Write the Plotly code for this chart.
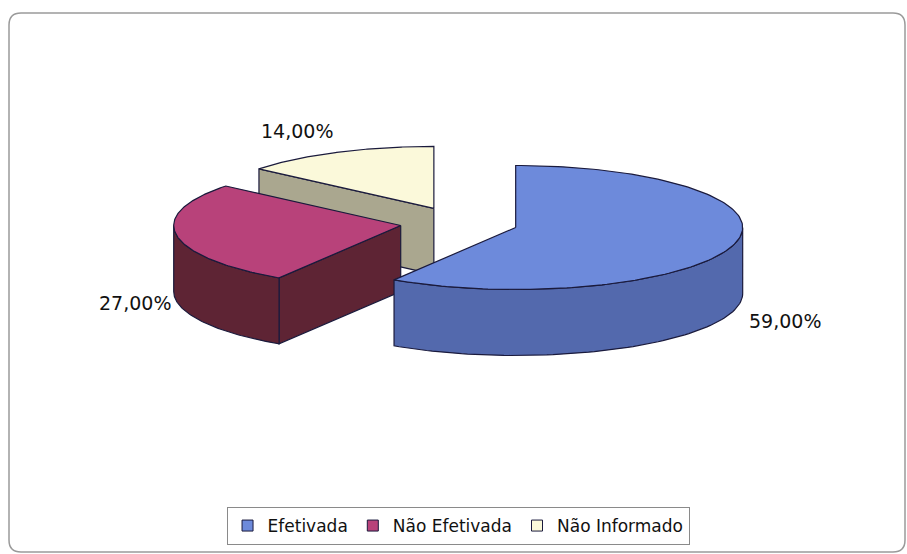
import numpy as np
import plotly.graph_objects as go

# ---- data ----
categories = ["Efetivada", "Não Efetivada", "Não Informado"]
values = [59.0, 27.0, 14.0]

# ---- style ----
top_colors = ["#6d8adb", "#b8427a", "#fbf9da"]
wall_colors = ["#5369ad", "#5e2434", "#aaa78f"]
edge_color = "#1a1a3c"
font_family = "DejaVu Sans"

W, H = 907, 554
CX, CY = 459, 223          # pie centre (pixels)
RX, RY = 227, 62           # ellipse radii
DEPTH = 66                 # pie thickness
EXPLODE = 0.26             # explosion as fraction of radius
label_offsets = [(51, 76), (-42, 68), (-40, -21)]  # label shift from slice rim point

fig = go.Figure()


def rim(theta, ox, oy, dz=0.0):
    """theta: degrees clockwise from 12 o'clock."""
    t = np.radians(90 - np.asarray(theta, dtype=float))
    return ox + RX * np.cos(t), oy - RY * np.sin(t) + dz


def poly(xs, ys, fill):
    xs = list(xs) + [xs[0]]
    ys = list(ys) + [ys[0]]
    fig.add_trace(go.Scatter(
        x=xs, y=ys, mode="lines", fill="toself", fillcolor=fill,
        line=dict(color=edge_color, width=1.2), hoverinfo="skip",
        showlegend=False))


total = sum(values)
cum = np.concatenate([[0], np.cumsum(values)]) / total * 360.0
slices = []
for i, v in enumerate(values):
    s, e = cum[i], cum[i + 1]
    m = (s + e) / 2
    tm = np.radians(90 - m)
    ox = CX + EXPLODE * RX * np.cos(tm)
    oy = CY - EXPLODE * RY * np.sin(tm)
    slices.append(dict(i=i, s=s, e=e, m=m, ox=ox, oy=oy))

# painter's order: back slices first
for sl in sorted(slices, key=lambda d: d["oy"]):
    i, s, e, ox, oy = sl["i"], sl["s"], sl["e"], sl["ox"], sl["oy"]
    # radial walls
    for ang, sign in ((s, -1), (e, 1)):
        phi = np.radians(90 - ang)
        visible = (np.cos(phi) < -1e-6) if sign == -1 else (np.cos(phi) > 1e-6)
        if visible:
            ex, ey = rim(ang, ox, oy)
            poly([ox, ex, ex, ox], [oy, ey, ey + DEPTH, oy + DEPTH], wall_colors[i])
    # outer curved wall (front half: 90..270 deg clockwise)
    a, b = max(s, 90.0), min(e, 270.0)
    if b > a:
        th = np.linspace(a, b, 80)
        tx, ty = rim(th, ox, oy)
        bx, by = rim(th[::-1], ox, oy, DEPTH)
        poly(np.concatenate([tx, bx]), np.concatenate([ty, by]), wall_colors[i])
    # top face
    th = np.linspace(s, e, 160)
    tx, ty = rim(th, ox, oy)
    poly(np.concatenate([[ox], tx]), np.concatenate([[oy], ty]), top_colors[i])

# percentage labels
for sl in slices:
    rx_, ry_ = rim(sl["m"], sl["ox"], sl["oy"])
    dx, dy = label_offsets[sl["i"]]
    txt = f"{values[sl['i']]:.2f}".replace(".", ",") + "%"
    fig.add_annotation(x=float(rx_ + dx), y=float(ry_ + dy), text=txt,
                       showarrow=False, xref="x", yref="y",
                       font=dict(family=font_family, size=19, color="#111111"))

# legend entries
for i, c in enumerate(categories):
    fig.add_trace(go.Scatter(
        x=[None], y=[None], mode="markers", name=c,
        marker=dict(symbol="square", size=11, color=top_colors[i],
                    line=dict(color=edge_color, width=1))))

# rounded frame
r = 12
x0, y0, x1, y1 = 9, 13, 905, 552
frame = (f"M {x0+r},{y0} L {x1-r},{y0} Q {x1},{y0} {x1},{y0+r} "
         f"L {x1},{y1-r} Q {x1},{y1} {x1-r},{y1} L {x0+r},{y1} "
         f"Q {x0},{y1} {x0},{y1-r} L {x0},{y0+r} Q {x0},{y0} {x0+r},{y0} Z")
fig.add_shape(type="path", path=frame, xref="x", yref="y",
              line=dict(color="#9a9a9a", width=1.5), layer="below")

fig.update_layout(
    width=W, height=H,
    margin=dict(l=0, r=0, t=0, b=0),
    paper_bgcolor="white", plot_bgcolor="white",
    xaxis=dict(range=[0, W], visible=False, fixedrange=True),
    yaxis=dict(range=[H, 0], visible=False, fixedrange=True),
    showlegend=True,
    legend=dict(orientation="h", x=0.505, xanchor="center",
                y=1 - 526 / H, yanchor="middle",
                bordercolor="#8a8a8a", borderwidth=1, bgcolor="white",
                font=dict(family=font_family, size=17, color="#111111"),
                itemwidth=30, tracegroupgap=0),
)

fig.write_html("out.html", config={"displayModeBar": False},
               post_script="document.body.style.margin='0px';document.body.style.padding='0px';")
